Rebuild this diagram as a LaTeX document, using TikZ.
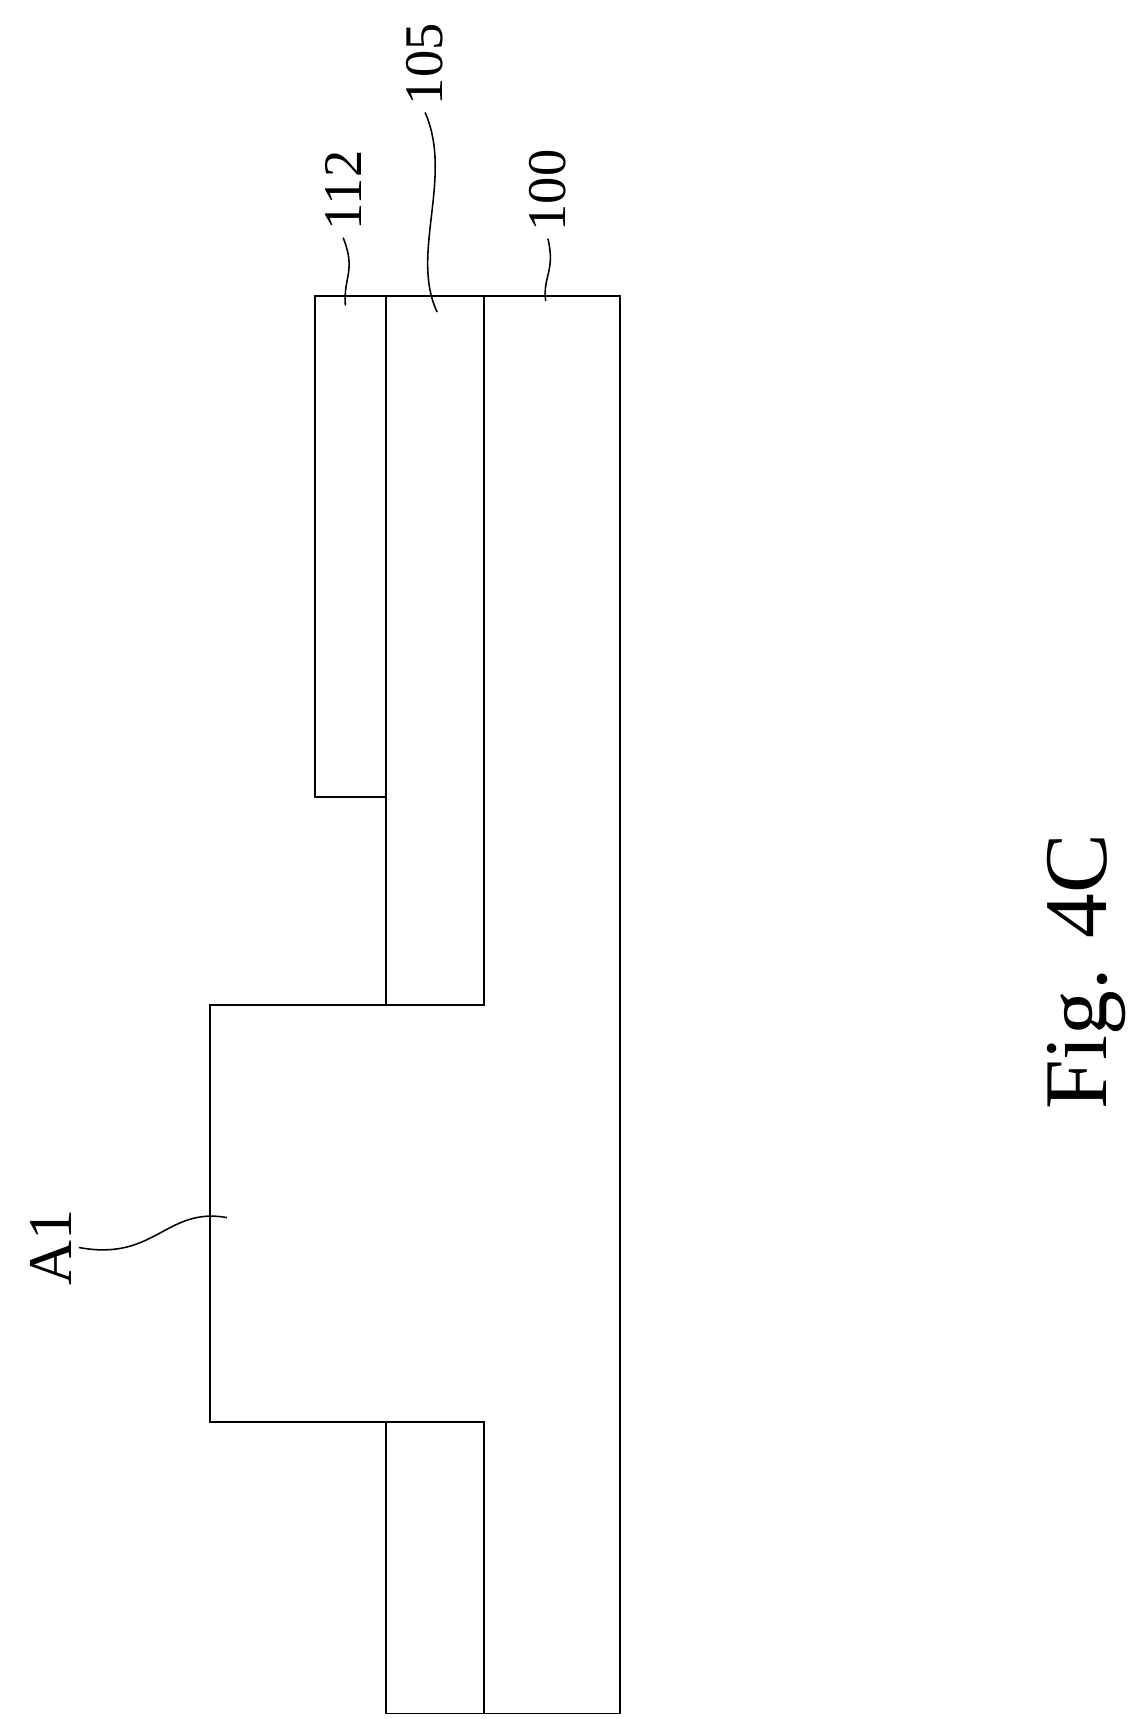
\documentclass[tikz,border=0pt]{standalone}
\usepackage{fontspec}
\setmainfont{Liberation Serif}
\begin{document}
\begin{tikzpicture}[x=0.02cm,y=-0.02cm,line width=1pt,
  lbl/.style={rotate=90,font=\fontsize{28}{28}\selectfont},
  lead/.style={line width=0.8pt}]
\useasboundingbox (0,0) rectangle (1024,1553);

			% layers
			\draw (285,267) rectangle (349,720);
			\draw (349,267) rectangle (437,908);
			\draw (349,1285) rectangle (437,1548);
			\draw (437,267) -- (560,267) -- (560,1548) -- (437,1548) -- (437,1285)
			      -- (190,1285) -- (190,908) -- (437,908) -- cycle;

			% labels
			\node[lbl] (l112) at (310,172) {112};
			\node[lbl] (l105) at (384,58) {105};
			\node[lbl] (l100) at (495,172) {100};
			\node[lbl,font=\fontsize{32}{32}\selectfont] (lA1) at (46,1127) {A1};
			\node[rotate=90,font=\fontsize{46}{46}\selectfont] (fig) at (982,878) {Fig. 4C};

			% leaders
			\draw[lead] (312,276) .. controls (310,250) and (322,245) .. (l112.west);
			\draw[lead] (395,282) .. controls (370,230) and (410,160) .. (l105.west);
			\draw[lead] (493,272) .. controls (490,250) and (502,245) .. (l100.west);
			\draw[lead] (205,1100) .. controls (150,1090) and (140,1140) .. (lA1.south);
\end{tikzpicture}
\end{document}
